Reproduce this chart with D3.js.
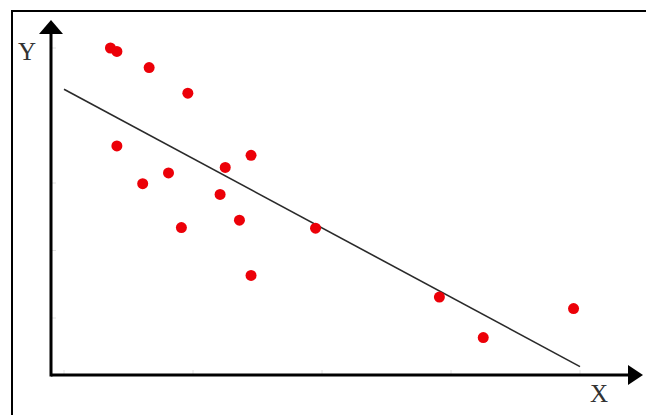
<!DOCTYPE html>
<html>
    <head>
        <meta charset="utf-8">
        <title>scatter with fitted line</title>
        <style type="text/css">
            body {
                margin: 0;
                background-color: #ffffff;
            }

            svg {
                display: block;
            }

            .label {
                font-family: "Liberation Serif", "DejaVu Serif", serif;
                font-size: 25px;
                fill: #333333;
            }
        </style>
        <script src="https://d3js.org/d3.v7.min.js"></script>
    </head>

    <body>
        <svg id="drawing-place" width="646" height="415"></svg>

        <script>
            // point data
            const xValues = [0.36, 0.41, 0.66, 0.96, 0.41, 0.61, 0.81, 0.91, 1.21,
                             1.25, 1.45, 1.36, 1.45, 1.95, 2.91, 3.25, 3.95];
            const yValues = [5.00, 4.95, 4.71, 4.33, 3.55, 2.99, 3.15, 2.34, 2.83,
                             3.23, 3.41, 2.45, 1.63, 2.33, 1.31, 0.71, 1.14];

            // fitted line, start and end
            const lineX = [0, 4];
            const lineY = [4.39, 0.28];

            const xTicks = [0, 1, 2, 3, 4];
            const yTicks = [1, 2, 3, 5];

            const axisLabels = ["X", "Y"];

            const svg = d3.select("#drawing-place");

            const x = d3.scaleLinear().domain([0, 4]).range([64, 580]);
            const y = d3.scaleLinear().domain([0, 5]).range([385.5, 48]);

            const originX = 51;
            const originY = 375;

            // frame, only top and left show
            svg.append("path")
                .attr("d", "M12,415 V11 H646")
                .attr("fill", "none")
                .attr("stroke", "#000")
                .attr("stroke-width", 2);

            // faint ticks
            svg.selectAll("line.xtick")
                .data(xTicks)
                .join("line")
                .attr("class", "xtick")
                .attr("x1", d => x(d))
                .attr("x2", d => x(d))
                .attr("y1", originY - 5)
                .attr("y2", originY)
                .attr("stroke", "#e2e2e2")
                .attr("stroke-width", 1);

            svg.selectAll("line.ytick")
                .data(yTicks)
                .join("line")
                .attr("class", "ytick")
                .attr("x1", originX)
                .attr("x2", originX + 5)
                .attr("y1", d => y(d))
                .attr("y2", d => y(d))
                .attr("stroke", "#e2e2e2")
                .attr("stroke-width", 1);

            // axes with arrow heads
            svg.append("line")
                .attr("x1", originX)
                .attr("x2", 630)
                .attr("y1", originY)
                .attr("y2", originY)
                .attr("stroke", "#000")
                .attr("stroke-width", 3);

            svg.append("line")
                .attr("x1", originX)
                .attr("x2", originX)
                .attr("y1", originY + 1.5)
                .attr("y2", 32)
                .attr("stroke", "#000")
                .attr("stroke-width", 3);

            svg.append("path")
                .attr("d", `M643,${originY} L628,${originY - 10} L628,${originY + 10} Z`)
                .attr("fill", "#000");

            svg.append("path")
                .attr("d", `M${originX},20 L${originX - 12},34 L${originX + 12},34 Z`)
                .attr("fill", "#000");

            // fitted line
            svg.append("line")
                .attr("x1", x(lineX[0]))
                .attr("y1", y(lineY[0]))
                .attr("x2", x(lineX[1]))
                .attr("y2", y(lineY[1]))
                .attr("stroke", "#2a2a2a")
                .attr("stroke-width", 1.6);

            // points
            svg.selectAll("circle")
                .data(xValues.map((d, i) => [d, yValues[i]]))
                .join("circle")
                .attr("cx", d => x(d[0]))
                .attr("cy", d => y(d[1]))
                .attr("r", 5.5)
                .attr("fill", "#ec0008");

            // axis labels
            svg.append("text")
                .attr("class", "label")
                .attr("x", 599)
                .attr("y", 402)
                .attr("text-anchor", "middle")
                .text(axisLabels[0]);

            svg.append("text")
                .attr("class", "label")
                .attr("x", 27)
                .attr("y", 60)
                .attr("text-anchor", "middle")
                .text(axisLabels[1]);
        </script>
    </body>
</html>
